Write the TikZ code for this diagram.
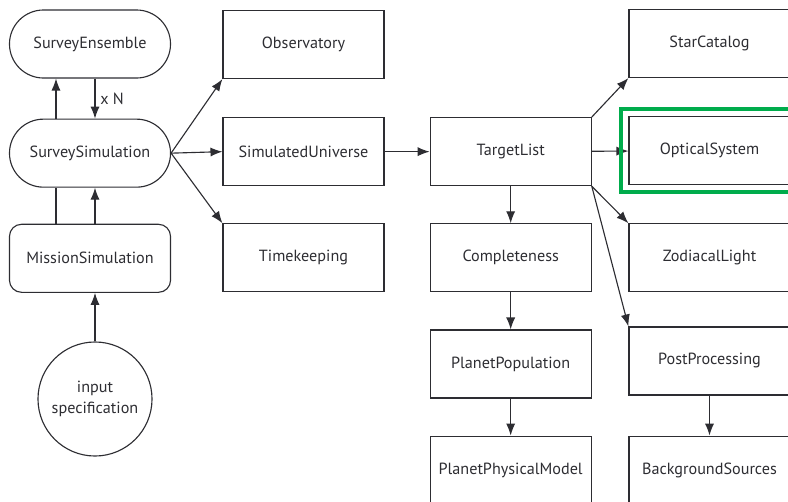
\documentclass[tikz,border=0pt]{standalone}
\usepackage{fontspec}
\setmainfont{PT Sans}
\usetikzlibrary{arrows.meta,positioning,fit}
\definecolor{ink}{RGB}{45,45,50}
\definecolor{hilite}{RGB}{0,172,76}

\begin{document}
\begin{tikzpicture}[>={Latex[length=8.5pt,width=6.5pt]}, x=0.025cm, y=-0.025cm]
    \tikzset{modbox/.style= {draw=ink, line width=0.8pt, rectangle, minimum width=4.025cm, minimum height=1.7cm, text=ink, font={\fontsize{11.5}{14}\selectfont}} }
    \tikzset{pill/.style= {modbox, rounded corners=0.85cm} }
    \tikzset{roundbox/.style= {modbox, rounded corners=0.3cm} }
    \tikzset{inputcirc/.style= {draw=ink, line width=0.8pt, circle, minimum size=2.85cm, inner sep=0pt, align=center, text=ink, font={\fontsize{11.5}{15}\selectfont}} }
    \tikzset{link/.style= {draw=ink, line width=0.8pt} }
    \tikzset{frame/.style= {draw=hilite, line width=2.8pt, rectangle, inner sep=0.18cm} }

    \useasboundingbox (0,0) rectangle (788,501);
    \clip (0,0) rectangle (788,501);

    % survey side
    \node[pill] (ensemble) at (90,44) {SurveyEnsemble};
    \node[pill] (survsim) [below= 1cm of ensemble] {SurveySimulation};
    \node[roundbox] (missim) [below= 0.9cm of survsim] {MissionSimulation};
    \node[inputcirc] (input) at (95,399) {input\\specification};

    \path[link, ->] ([xshift=-0.85cm]survsim.north) -- ([xshift=-0.85cm]ensemble.south);
    \path[link, ->] ([xshift=0.125cm]ensemble.south) -- node[right, text=ink, font={\fontsize{11.5}{14}\selectfont}] {x N} ([xshift=0.125cm]survsim.north);
    \path[link] ([xshift=-0.85cm]missim.north) -- ([xshift=-0.85cm]survsim.south);
    \path[link, ->] ([xshift=0.125cm]missim.north) -- ([xshift=0.125cm]survsim.south);
    \path[link, ->] (input) -- (input |- missim.south);

    % modules
    \node[modbox] (observatory) at (303.5,44.5) {Observatory};
    \node[modbox] (simuniv) [below= 0.95cm of observatory] {SimulatedUniverse};
    \node[modbox] (timekeeping) [below= 0.925cm of simuniv] {Timekeeping};

    \node[modbox] (targetlist) [right= 1.125cm of simuniv] {TargetList};
    \node[modbox] (completeness) [below= 0.925cm of targetlist] {Completeness};
    \node[modbox] (planetpop) [below= 0.925cm of completeness] {PlanetPopulation};
    \node[modbox] (planetphys) [below= 0.925cm of planetpop] {PlanetPhysicalModel};

    \node[modbox] (starcatalog) at (709.5,43.5) {StarCatalog};
    \node[modbox] (optical) [below= 0.95cm of starcatalog] {OpticalSystem};
    \node[modbox] (zodiacal) [below= 0.95cm of optical] {ZodiacalLight};
    \node[modbox] (postproc) [below= 0.85cm of zodiacal] {PostProcessing};
    \node[modbox] (background) [below= 1cm of postproc] {BackgroundSources};

    \path[link, ->] (survsim.east) -- (observatory.south west);
    \path[link, ->] (survsim.east) -- (simuniv.west);
    \path[link, ->] (survsim.east) -- (timekeeping.north west);
    \path[link, ->] (simuniv) -- (targetlist);

    \path[link, ->] (targetlist) -- (completeness);
    \path[link, ->] (completeness) -- (planetpop);
    \path[link, ->] (planetpop) -- (planetphys);

    \path[link, ->] (targetlist.north east) -- (starcatalog.south west);
    \path[link, ->] (targetlist) -- (optical);
    \path[link, ->] (targetlist.south east) -- (zodiacal.north west);
    \path[link, ->] (targetlist.south east) -- (postproc.north west);
    \path[link, ->] (postproc) -- (background);

    \node[frame, fit=(optical)] (optframe) {};
\end{tikzpicture}
\end{document}
